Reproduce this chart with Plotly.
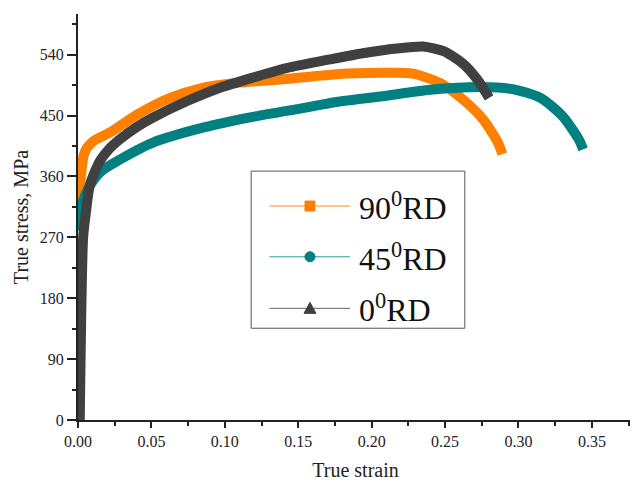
import plotly.graph_objects as go

# ---- data ----
strain_90 = [0.0005, 0.0020, 0.0040, 0.0060, 0.0104, 0.0218, 0.040, 0.0627, 0.085, 0.108,
             0.142, 0.176, 0.206, 0.228, 0.2466, 0.262, 0.276, 0.286, 0.289]
stress_90 = [300, 360, 392, 402, 412, 425, 451, 476, 491, 498,
             504, 511, 513, 512, 498, 474, 444, 410, 393]

strain_45 = [0.0008, 0.0030, 0.0080, 0.0160, 0.0286, 0.051, 0.085, 0.119, 0.153, 0.176, 0.206,
             0.240, 0.274, 0.296, 0.315, 0.330, 0.341, 0.344]
stress_45 = [280, 320, 346, 368, 385, 410, 432, 448, 461, 470, 478,
             488, 492, 489, 476, 449, 415, 400]

strain_0 = [0.0012, 0.0035, 0.0050, 0.0082, 0.0150, 0.0210, 0.0286, 0.040, 0.0511, 0.074, 0.0967,
            0.119, 0.142, 0.1717, 0.194, 0.217, 0.235, 0.249, 0.262, 0.272, 0.280]
stress_0 = [0, 270, 300, 348, 383, 400, 415, 433, 447, 471, 491,
            506, 520, 533, 542, 549, 552, 545, 527, 503, 476]

names = ["90<sup>0</sup>RD", "45<sup>0</sup>RD", "0<sup>0</sup>RD"]
colors = ["#FF8000", "#008080", "#404040"]
legend_line_colors = ["#FF8C1A", "#2E9C9C", "#666666"]

x_ticks = [0.00, 0.05, 0.10, 0.15, 0.20, 0.25, 0.30, 0.35]
x_tick_labels = ["0.00", "0.05", "0.10", "0.15", "0.20", "0.25", "0.30", "0.35"]
y_ticks = [0, 90, 180, 270, 360, 450, 540]

series = [(strain_90, stress_90), (strain_45, stress_45), (strain_0, stress_0)]

fig = go.Figure()
for (xs, ys), c in zip(series, colors):
    fig.add_trace(go.Scatter(x=xs, y=ys, mode="lines",
                             line=dict(color=c, width=10, shape="spline", smoothing=0.7),
                             showlegend=False, hoverinfo="skip"))

font_family = "Liberation Serif"

# ---- legend box drawn in paper coordinates (layout, not data) ----
box = dict(x0=0.312, x1=0.697, y0=0.226, y1=0.613)
row_y = [0.527, 0.402, 0.275]
line_x0, line_x1, mark_x, text_x = 0.345, 0.490, 0.418, 0.502

shapes = [dict(type="rect", xref="paper", yref="paper", **box,
               line=dict(color="#555", width=1), fillcolor="white", layer="above")]
annotations = []
for i, (n, c, lc, yy) in enumerate(zip(names, colors, legend_line_colors, row_y)):
    shapes.append(dict(type="line", xref="paper", yref="paper", x0=line_x0, x1=line_x1,
                       y0=yy, y1=yy, line=dict(color=lc, width=1), layer="above"))
    common = dict(xref="paper", yref="paper", xsizemode="pixel", ysizemode="pixel",
                  xanchor=mark_x, yanchor=yy, fillcolor=c, line=dict(color=c, width=1),
                  layer="above")
    if i == 0:
        shapes.append(dict(type="rect", x0=-5, x1=5, y0=-5, y1=5, **common))
    elif i == 1:
        shapes.append(dict(type="circle", x0=-5, x1=5, y0=-5, y1=5, **common))
    else:
        shapes.append(dict(type="path", path="M-6,-5 L6,-5 L0,6 Z", **common))
    annotations.append(dict(xref="paper", yref="paper", x=text_x, y=yy, text=n,
                            showarrow=False, xanchor="left", yanchor="middle",
                            font=dict(family=font_family, size=32, color="#111")))

fig.update_layout(
    width=630, height=475,
    margin=dict(l=70, r=5, t=6, b=53),
    paper_bgcolor="white", plot_bgcolor="white",
    font=dict(family=font_family, color="#222"),
    showlegend=False,
    shapes=shapes, annotations=annotations,
    xaxis=dict(range=[0, 0.378], tickvals=x_ticks, ticktext=x_tick_labels,
               showgrid=False, zeroline=False, showline=True, linecolor="#222", linewidth=2,
               ticks="outside", ticklen=6, tickwidth=2, tickcolor="#222",
               minor=dict(dtick=0.025, tick0=0, ticks="outside", ticklen=4, tickwidth=2, tickcolor="#222"),
               tickfont=dict(size=16, family=font_family),
               title=dict(text="True strain", font=dict(size=20, family=font_family), standoff=14)),
    yaxis=dict(range=[0, 600], tickvals=y_ticks,
               showgrid=False, zeroline=False, showline=True, linecolor="#222", linewidth=2,
               ticks="outside", ticklen=9, tickwidth=2, tickcolor="#222",
               minor=dict(dtick=45, tick0=0, ticks="outside", ticklen=4, tickwidth=2, tickcolor="#222"),
               tickfont=dict(size=16, family=font_family),
               title=dict(text="True stress, MPa", font=dict(size=20, family=font_family), standoff=6)),
)

fig.write_html("out.html")
